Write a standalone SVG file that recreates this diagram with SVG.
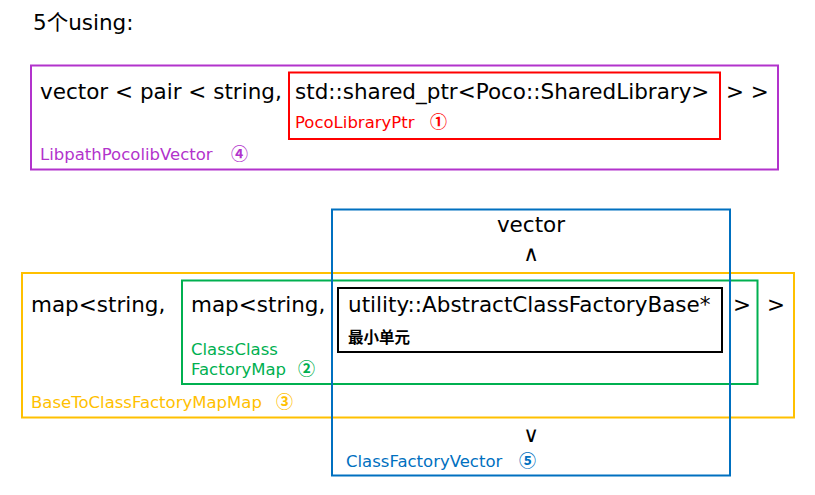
<svg xmlns="http://www.w3.org/2000/svg" width="815" height="495" viewBox="0 0 815 495">
<style>
text{font-family:"DejaVu Sans","Noto Sans CJK SC",sans-serif;}
.m{font-size:21.5px;fill:#000;}
.s{font-size:16.5px;}
.c{font-family:"Noto Sans CJK SC",sans-serif;font-size:17px;font-weight:bold;}
.box{fill:none;stroke-width:2;}
</style>
<rect width="815" height="495" fill="#fff"/>
<text class="m" x="33" y="30">5个using:</text>
<g id="libpathPocolibVector">
<rect class="box" x="31" y="65.5" width="747" height="104" stroke="#b233cc"/>
<text class="m" x="40" y="99">vector &lt; pair &lt; string,</text>
<text class="m" x="726" y="99">&gt; &gt;</text>
<text class="s" x="40" y="160" fill="#b233cc">LibpathPocolibVector<tspan class="c" x="231">④</tspan></text>
</g>
<g id="pocoLibraryPtr">
<rect class="box" x="289" y="72.5" width="431" height="66.5" stroke="#ff0000"/>
<text class="m" x="295" y="99">std::shared_ptr&lt;Poco::SharedLibrary&gt;</text>
<text class="s" x="295" y="128" fill="#ff0000">PocoLibraryPtr<tspan class="c" x="430">①</tspan></text>
</g>
<g id="baseToClassFactoryMapMap">
<rect class="box" x="22" y="273" width="772" height="144.5" stroke="#ffc000"/>
<text class="m" x="31" y="312">map&lt;string,</text>
<text class="m" x="767" y="312">&gt;</text>
<text class="s" x="31" y="408" fill="#ffc000">BaseToClassFactoryMapMap<tspan class="c" x="276">③</tspan></text>
</g>
<g id="classClassFactoryMap">
<rect class="box" x="182" y="280.5" width="575.5" height="103.5" stroke="#00b050"/>
<text class="m" x="191" y="312">map&lt;string,</text>
<text class="m" x="733" y="312">&gt;</text>
<text class="s" x="191" y="355" fill="#00b050">ClassClass</text>
<text class="s" x="191" y="375" fill="#00b050">FactoryMap<tspan class="c" x="298">②</tspan></text>
</g>
<g id="classFactoryVector">
<rect class="box" x="332" y="209.5" width="398" height="266" stroke="#0070c0"/>
<text class="m" x="531" y="232" text-anchor="middle">vector</text>
<text class="m" x="531" y="261" text-anchor="middle">∧</text>
<text class="m" x="531" y="442" text-anchor="middle">∨</text>
<text class="s" x="346" y="467" fill="#0070c0">ClassFactoryVector<tspan class="c" x="519">⑤</tspan></text>
</g>
<g id="abstractClassFactoryBase">
<rect class="box" x="338" y="288" width="384" height="64" stroke="#000"/>
<text class="m" x="348" y="312">utility::AbstractClassFactoryBase*</text>
<text x="348" y="343" font-size="15.5" font-weight="bold">最小单元</text>
</g>
<g id="connectors"/>
</svg>
